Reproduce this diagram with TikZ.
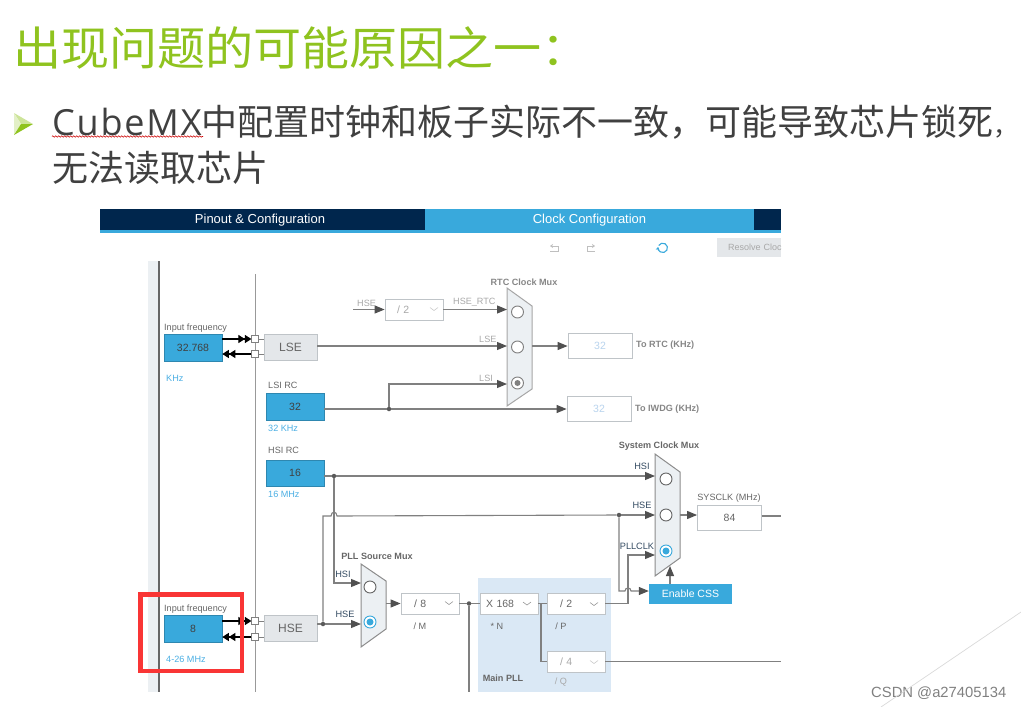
\documentclass[tikz,border=0pt]{standalone}
\usepackage{fontspec}
\setmainfont{Liberation Sans}
\newfontfamily\cjk{Noto Sans CJK SC}
\newfontfamily\cubefont[LetterSpace=5]{Open Sans}
\usetikzlibrary{arrows.meta,decorations.pathmorphing}
\definecolor{navy}{HTML}{00264D}
\definecolor{cube}{HTML}{39A9DC}
\definecolor{leaf}{HTML}{8FC31F}
\definecolor{ink}{HTML}{404040}
\definecolor{wirec}{HTML}{808080}
\definecolor{headc}{HTML}{505050}
\definecolor{edge}{HTML}{BFC4C8}
\definecolor{muxc}{HTML}{ECF0F3}
\definecolor{pllc}{HTML}{DAE8F5}
\definecolor{hint}{HTML}{4AAEE3}
\definecolor{faint}{HTML}{B9D4EE}
\definecolor{ash}{HTML}{666666}
\definecolor{dim}{HTML}{A8A8A8}
\definecolor{pale}{HTML}{E4E7EA}
\definecolor{markc}{HTML}{F93535}
\newcommand{\fs}[1]{\fontsize{#1}{#1}\selectfont}
\begin{document}
\begin{tikzpicture}
[x=1pt,y=-1pt
,txt/.style={inner sep=0,text=ash,font=\fs{9.1},yshift=-1.5pt}
,lft/.style={txt,anchor=west}
,bld/.style={txt,font=\fs{9.1}\bfseries}
,hint/.style={lft,text=hint}
,off/.style={lft,text=dim}
,sel/.style={txt,text=navy!60!gray,font=\fs{9.2}}
,tab/.style={inner sep=0,text=white,font=\fs{13},minimum height=21,text height=9.5,text depth=1}
,ibx/.style={fill=cube,draw=cube!80!black,line width=0.6,inner sep=0,text=ink,font=\fs{10.5},minimum width=58,minimum height=27}
,gbx/.style={fill=pale,draw=edge,line width=0.8,inner sep=0,text=ash,font=\fs{12},minimum width=53,minimum height=26}
,obx/.style={draw=edge,fill=white,line width=0.8,inner sep=0,text=faint,font=\fs{10.5},minimum width=64,minimum height=25}
,dbx/.style={draw=edge,fill=white,line width=0.8,inner sep=0,text=ash,font=\fs{10.5},minimum width=58,minimum height=21,text width=58,align=left}
,prt/.style={draw=gray,fill=white,line width=0.7,inner sep=0,minimum size=6.5}
,wr/.style={draw=wirec,line width=1.1}
,be/.style={wr,arrows={-Triangle[length=10,width=8,fill=headc,color=headc]}}
,ke/.style={draw=black,line width=1.1,arrows={-Triangle[length=6.5,width=8] Triangle[length=6.5,width=8]}}
,dot/.style={circle,fill=wirec!70!black,inner sep=0,minimum size=4.5}
,mux/.style={draw=gray!90,fill=muxc,line width=1}
,rd/.style={circle,draw=ash,fill=white,line width=0.9,inner sep=0,minimum size=12}
,chv/.style={draw=gray!80,line width=0.6}
]
\useasboundingbox (0,0) rectangle (1021,707);
% slide text
\node[anchor=base west,inner sep=0,text=leaf,font=\fs{46}\cjk,xscale=1.045] (title) at (13,65.5) {出现问题的可能原因之一：};
\path[fill=leaf!45] (14,113) -- (33,124) -- (21,124) -- cycle;
\path[fill=leaf!25] (14,113) -- (21,124) -- (14,135) -- cycle;
\path[fill=leaf] (14,135) -- (33,124) -- (21,124) -- cycle;
\node[anchor=base west,inner sep=0,text=ink,font=\fs{36}\cjk] (line1) at (52,135) {{\cubefont CubeMX}中配置时钟和板子实际不一致，可能导致芯片锁死{\fs{25}，}};
\node[anchor=base west,inner sep=0,text=ink,font=\fs{36}\cjk] (line2) at (52,181) {无法读取芯片};
\draw[red!80!black,line width=0.6,decorate,decoration={zigzag,amplitude=0.8,segment length=3}] (52,136.5) -- (203,136.5);
\node[inner sep=0,text=gray,font=\fs{14.8},anchor=base west] (mark) at (871,697) {CSDN @a27405134};
\draw[gray!30,line width=0.7] (881,707) -- (1021,612);
% tabs
\node[tab,fill=navy,minimum width=325] (pinout) at (262.5,219.5) {\hspace*{-5pt}Pinout \& Configuration};
\node[tab,fill=cube,minimum width=329] (clock) at (589.5,219.5) {Clock Configuration};
\fill[navy] (754,209) rectangle (781,230);
\fill[cube] (100,230) rectangle (781,233);
\draw[gray!50,line width=0.8] (558,246) -- (558,251) -- (550,251);
\draw[gray!50,line width=0.8,-{Stealth[length=3,width=4]}] (558,246) -- (550,246);
\draw[gray!50,line width=0.8] (587,246) -- (587,251) -- (595,251);
\draw[gray!50,line width=0.8,-{Stealth[length=3,width=4]}] (587,246) -- (595,246);
\draw[cube,line width=1.1,-{Stealth[length=3,width=4]}] (658.7,245.5) arc[start angle=150,end angle=-190,radius=4.7pt];
\node[fill=pale,inner sep=0,text=dim,font=\fs{9},minimum width=64,minimum height=19,text width=64,align=left] (resolve) at (749,247.5) {\hspace*{11pt}\mbox{Resolve Cloc}};
% rails
\fill[muxc] (148,261) rectangle (158,692);
\fill[ash] (158,261) rectangle (160,692);
\draw[gray!80,line width=1] (255,274) -- (255,692);
% pll backdrop
\fill[pllc] (478,578) rectangle (611,692);
% muxes
\draw[mux,draw=gray!70] (507,288) -- (532,306) -- (532,389) -- (507,406) -- cycle;
\draw[mux] (655,454) -- (680,472) -- (680,558) -- (655,576) -- cycle;
\draw[mux] (361,564) -- (386,581) -- (386,629) -- (361,647) -- cycle;
\foreach \n/\x/\y/\c in {r1/517.5/312/gray,r2/517.5/347/gray,r3/517.5/383/gray,p1/370/587/ash,p2/370/622/cube,s1/666/479/ash,s2/666/515/ash,s3/666/551/cube}
  \node[rd,draw=\c] (\n) at (\x,\y) {};
\fill[gray] (r3) circle (3);
\fill[cube] (p2) circle (3.5);
\fill[cube] (s3) circle (3.5);
\coordinate (rtc1) at (507,309.5);
\coordinate (rtc2) at (507,346);
\coordinate (rtc3) at (507,384);
\coordinate (rtco) at (532,346);
\coordinate (pll1) at (361,583);
\coordinate (pll2) at (361,624);
\coordinate (pllo) at (386,603.5);
\coordinate (sys1) at (655,476);
\coordinate (sys2) at (655,515);
\coordinate (sys3) at (655,555);
\coordinate (sys4) at (670,566);
\coordinate (syso) at (680,515);
\coordinate (hseh) at (353,309.5);
\coordinate (sysend) at (781,516);
\coordinate (pllend) at (781,661.5);
\coordinate (mdown) at (469,692);
% lse
\node[lft] (flse) at (164,327) {Input frequency};
\node[ibx] (inlse) at (193,348) {32.768};
\node[hint] (klse) at (166,377) {KHz};
\node[prt] (plse1) at (255,339) {};
\node[prt] (plse2) at (255,354) {};
\node[gbx] (lse) at (290.5,347) {LSE};
% lsi
\node[lft] (tlsi) at (268,384) {LSI RC};
\node[ibx] (lsi) at (295,406.5) {32};
\node[hint] (klsi) at (268,427) {32 KHz};
% hsi
\node[lft] (thsi) at (268,449) {HSI RC};
\node[ibx,minimum height=26] (hsi) at (295,473) {16};
\node[hint] (khsi) at (268,493) {16 MHz};
% hse
\node[lft] (fhse) at (164,608) {Input frequency};
\node[ibx] (inhse) at (193,629) {8};
\node[hint] (khse) at (166,658) {4-26 MHz};
\node[prt] (phse1) at (255,621) {};
\node[prt] (phse2) at (255,637) {};
\node[gbx] (hse) at (290.5,628) {HSE};
% boxes
\node[dbx,text=dim] (d2) at (414,309.5) {\hspace*{12pt}/ 2};
\node[obx] (ortc) at (600,346) {32};
\node[obx] (oiwdg) at (599,409) {32};
\node[dbx] (d8) at (430,603.5) {\hspace*{13pt}/ 8};
\node[dbx] (n168) at (509,603.5) {\hspace*{6pt}X 168};
\node[dbx] (p2) at (576,603.5) {\hspace*{13pt}/ 2};
\node[dbx,text=dim] (q4) at (576,661.5) {\hspace*{13pt}/ 4};
\node[obx,text=ash] (sysclk) at (729.5,517.5) {84};
\node[fill=cube,inner sep=0,text=white,font=\fs{10.5},minimum width=83,minimum height=20] (css) at (690.5,594) {Enable CSS};
\foreach \x/\y/\c in {434/309/gray!40,449/603/gray!80,527/603.5/gray!80,594/604/gray!80,594/662/gray!40}
  \draw[chv,draw=\c] (\x-4,\y-1.5) -- (\x,\y+1.5) -- (\x+4,\y-1.5);
% dots
\node[dot] (dlsi) at (389,409) {};
\node[dot] (dhsi) at (334,476) {};
\node[dot] (dhse) at (323,624) {};
\node[dot] (dsys) at (619,515) {};
\node[dot] (dm) at (469,603.5) {};
% input arrows
\draw[ke] (inlse.east |- plse1) -- (plse1);
\draw[ke] (plse2) -- (inlse.east |- plse2);
\draw[ke] (inhse.east |- phse1) -- (phse1);
\draw[ke] (phse2) -- (inhse.east |- phse2);
\foreach \a/\b in {plse1/lse,plse2/lse,phse1/hse,phse2/hse}
  \draw[gray,line width=0.8] (\a) -- (\b.west |- \a);
% rtc side
\draw[be] (hseh) -- (d2);
\draw[be] (d2) -- (rtc1);
\draw[be] (lse.east |- rtc2) -- (rtc2);
\draw[be] (rtco) -- (ortc);
\draw[wr] (lsi.east |- dlsi) -- (dlsi);
\draw[be] (dlsi) -- (oiwdg);
\draw[be] (dlsi) |- (rtc3);
% system side
\draw[wr] (hsi.east |- dhsi) -- (dhsi);
\draw[be] (dhsi) -- (sys1);
\draw[be] (dhsi) |- (pll1);
\draw[wr] (hse.east |- dhse) -- (dhse);
\draw[be] (dhse) -- (pll2);
\draw[wr] (dhse) -- (323,516) -- (331,516) .. controls (331,511) and (337,511) .. (337,516) -- (dsys);
\draw[be] (dsys) -- (sys2);
\draw[be] (syso) -- (sysclk.west |- syso);
\draw[wr] (sysclk.east |- sysend) -- (sysend);
\draw[be] (pllo) -- (d8);
\draw[wr] (d8) -- (dm);
\draw[wr] (dm) -- (n168);
\draw[wr] (dm) -- (mdown);
\draw[wr] (n168) -- (p2);
\draw[wr] (541,603.5) |- (q4);
\draw[be] (p2.east) -- (628,603.5) |- (sys3);
\draw[wr] (q4) -- (pllend);
\draw[be] (dsys) |- (625,591) .. controls (625,587) and (631,587) .. (631,591) -- (css.west |- 0,591);
\draw[be] (css.north -| sys4) -- (sys4);
% labels
\node[off] (lhse) at (357,302) {HSE};
\node[off] (lrtc) at (453,301) {HSE\_RTC};
\node[off] (llse) at (479,338) {LSE};
\node[off] (llsi) at (479,377) {LSI};
\node[bld,text=dim!80!black] (trtc) at (524,281) {RTC Clock Mux};
\node[bld,text=dim!80!black,anchor=west] (ttr) at (636,344) {To RTC (KHz)};
\node[bld,text=dim!80!black,anchor=west] (tti) at (635,408) {To IWDG (KHz)};
\node[bld] (tsys) at (659,445) {System Clock Mux};
\node[sel] (lhsi2) at (642,465) {HSI};
\node[sel] (lhse2) at (642,504) {HSE};
\node[sel] (lpll) at (637,545) {PLLCLK};
\node[txt] (tclk) at (729,497) {SYSCLK (MHz)};
\node[bld] (tpll) at (377,555) {PLL Source Mux};
\node[sel] (lhsi1) at (343,573) {HSI};
\node[sel] (lhse1) at (345,613) {HSE};
\node[txt] (tm) at (420,625) {/ M};
\node[txt] (tn) at (497,625) {* N};
\node[txt] (tp) at (561,625) {/ P};
\node[txt,text=dim] (tq) at (561,681) {/ Q};
\node[bld] (tmain) at (503,677) {Main PLL};
% red frame
\draw[markc,line width=4.5] (140.5,594.5) rectangle (242,671);
\end{tikzpicture}
\end{document}
